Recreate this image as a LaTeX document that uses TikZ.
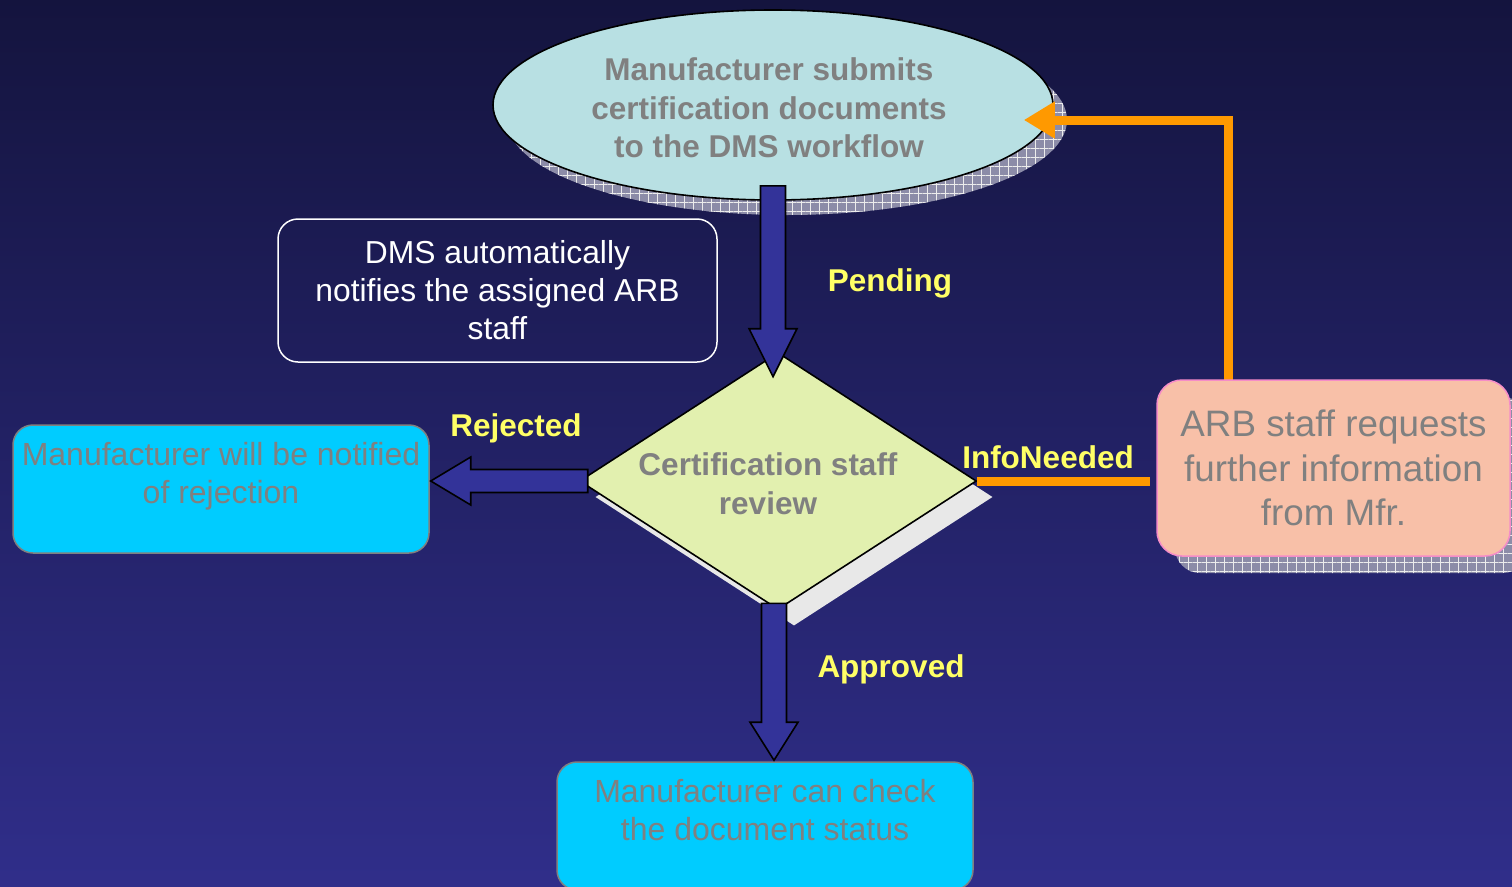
\documentclass[tikz,border=0pt]{standalone}
\usepackage{fontspec}
\setmainfont{Liberation Sans}
\usetikzlibrary{shapes.geometric,arrows.meta,patterns.meta,calc}
\definecolor{bgtop}{RGB}{20,20,62}
\definecolor{bgbot}{RGB}{48,46,138}
\definecolor{ellfill}{RGB}{184,224,227}
\definecolor{diafill}{RGB}{226,240,175}
\definecolor{diashadow}{RGB}{232,232,232}
\definecolor{arrblue}{RGB}{51,51,153}
\definecolor{cyanbox}{RGB}{0,204,255}
\definecolor{peach}{RGB}{248,192,168}
\definecolor{pinkline}{RGB}{245,140,200}
\definecolor{orangeln}{RGB}{255,153,0}
\definecolor{lblyellow}{RGB}{255,255,102}
\definecolor{txtgray}{RGB}{128,128,128}
\definecolor{shadowcol}{RGB}{140,140,168}
\begin{document}
\begin{tikzpicture}[x=1pt,y=-1pt,
  boldtxt/.style={font=\fontsize{31.5}{38.5}\selectfont\bfseries, text=txtgray, align=center},
  lbl/.style={font=\fontsize{31.5}{38}\selectfont\bfseries, text=lblyellow, inner sep=0pt, anchor=base},
  cyanbox/.style={draw=txtgray, line width=1.5pt, fill=cyanbox, rounded corners=20pt,
     minimum width=416pt, minimum height=128pt, align=center, text=txtgray,
     font=\fontsize{32}{38}\selectfont, inner sep=0pt},
  barrow/.style={fill=arrblue, draw=black, line width=1.6pt, line join=miter},
  orangeline/.style={draw=orangeln, line width=9pt, line join=miter},
  patshadow/.style={pattern={Lines[angle=0,distance=9pt,line width=0.8pt]}, pattern color=white!85!gray},
  patshadowv/.style={pattern={Lines[angle=90,distance=9pt,line width=0.8pt]}, pattern color=white!85!gray}
]
\useasboundingbox (0,0) rectangle (1512,886);
\clip (0,0) rectangle (1512,886);
% background
\fill[top color=bgtop, bottom color=bgbot] (0,0) rectangle (1512,886);

% shadows
\fill[shadowcol] (787,120) ellipse [x radius=280pt, y radius=95pt];
\fill[patshadow] (787,120) ellipse [x radius=280pt, y radius=95pt];
\fill[patshadowv] (787,120) ellipse [x radius=280pt, y radius=95pt];
\fill[shadowcol, rounded corners=25pt] (1175,397) rectangle (1528,573);
\fill[patshadow, rounded corners=25pt] (1175,397) rectangle (1528,573);
\fill[patshadowv, rounded corners=25pt] (1175,397) rectangle (1528,573);
\node[diamond, aspect=1.545, minimum width=397pt, minimum height=257pt, inner sep=0pt,
      fill=diashadow] at (794,497) {};

% main nodes
\node[ellipse, draw=black, line width=1.6pt, fill=ellfill, minimum width=560pt,
      minimum height=190pt, inner sep=0pt] (submit) at (773,105) {};
\node[boldtxt] (submittxt) at (769,108) {Manufacturer submits\\certification documents\\to the DMS workflow};

\node[draw=white, line width=1.5pt, rounded corners=20pt, minimum width=439pt,
      minimum height=143pt, inner sep=0pt, align=center, text=white,
      font=\fontsize{31.8}{38}\selectfont] (notify) at (497.5,290.5)
      {DMS automatically\\notifies the assigned ARB\\staff};

\node[diamond, aspect=1.545, minimum width=397pt, minimum height=257pt, inner sep=0pt,
      draw=black, line width=1.6pt, fill=diafill] (review) at (778,481) {};
\node[boldtxt] (reviewtxt) at (768,483.5) {Certification staff\\review};

\node[cyanbox] (rej) at (221,489) {Manufacturer will be notified\\of rejection\\[-6pt]\mbox{}};
\node[cyanbox] (check) at (765,826) {Manufacturer can check\\the document status\\[-6pt]\mbox{}};

% orange feedback path
\draw[orangeline] (review.east) -- ([xshift=-7pt]review.east -| 1157,0);
\coordinate (fbstart) at (1228,381);
\draw[orangeline, -{Triangle[length=31pt,width=35pt]}] (fbstart) |- ([xshift=-30pt,yshift=-15pt]submit.east);

\node[draw=pinkline, line width=1.5pt, fill=peach, rounded corners=25pt,
      minimum width=353pt, minimum height=176pt, inner sep=0pt, align=center,
      text=txtgray, font=\fontsize{36.8}{44.5}\selectfont] (arb) at (1333.5,468)
      {ARB staff requests\\further information\\from Mfr.};

% block arrows
\draw[barrow] let \p1=([yshift=15pt]submit.south), \p2=([yshift=-25pt]review.north) in
  (\x1-12.5pt,\y1) -- (\x1-12.5pt,\y2+48pt) -- (\x1-24pt,\y2+48pt) -- (\x1,\y2)
  -- (\x1+24pt,\y2+48pt) -- (\x1+12.5pt,\y2+48pt) -- (\x1+12.5pt,\y1) -- cycle;
\draw[barrow] let \p1=([xshift=-4pt,yshift=7pt]review.south), \p2=([yshift=1pt]check.north) in
  (\x1-12.5pt,\y1) -- (\x1-12.5pt,\y2+38pt) -- (\x1-24pt,\y2+38pt) -- (\x1,\y2)
  -- (\x1+24pt,\y2+38pt) -- (\x1+12.5pt,\y2+38pt) -- (\x1+12.5pt,\y1) -- cycle;
\draw[barrow] let \p1=([xshift=9pt]review.west), \p2=([xshift=1pt]rej.east) in
  (\x1,\y1+11.5pt) -- (\x2+40pt,\y1+11.5pt) -- (\x2+40pt,\y1+24pt) -- (\x2,\y1)
  -- (\x2+40pt,\y1-24pt) -- (\x2+40pt,\y1-11.5pt) -- (\x1,\y1-11.5pt) -- cycle;

% labels
\node[lbl] (lpend) at (890,291) {Pending};
\node[lbl] (lrej) at (516,436) {Rejected};
\node[lbl] (linfo) at (1048,468) {InfoNeeded};
\node[lbl] (lappr) at (891,677) {Approved};
\end{tikzpicture}
\end{document}
